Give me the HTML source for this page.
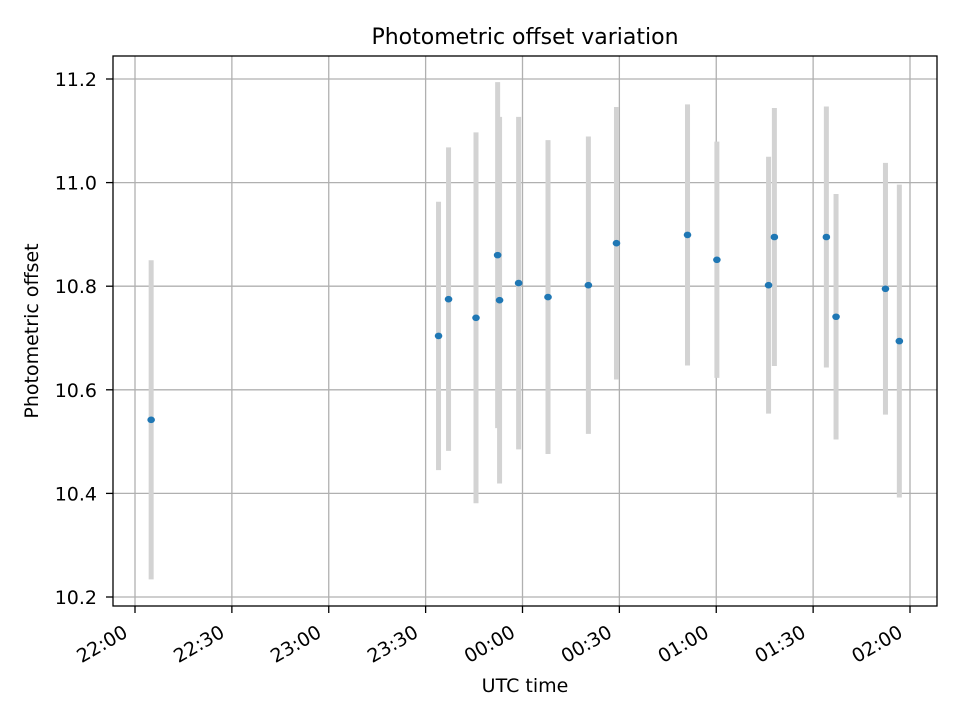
<!DOCTYPE html>
<html><head><meta charset="utf-8"><style>
html,body{margin:0;padding:0;background:#fff;}
svg{display:block;font-family:"DejaVu Sans","Liberation Sans",sans-serif;}
</style></head><body>
<svg id="chart" width="960" height="720" viewBox="0 0 960 720" xmlns="http://www.w3.org/2000/svg">
<rect width="960" height="720" fill="#fff"/>
<g id="grid"></g>
<g id="bars"></g>
<g id="pts"></g>
<rect x="113" y="56" width="824" height="550" fill="none" stroke="#000" stroke-width="1.3"/>
<g id="ticks"></g>
<text x="525" y="44" font-size="22" text-anchor="middle">Photometric offset variation</text>
<text x="525" y="692" font-size="19" text-anchor="middle">UTC time</text>
<text transform="translate(38,331) rotate(-90)" font-size="19" text-anchor="middle">Photometric offset</text>
</svg>
<script>
// minutes after 22:00 UTC
const times = [5.0, 94.0, 97.1, 105.6, 112.3, 112.9, 118.8, 127.9, 140.4, 149.1, 171.1, 180.2, 196.2, 198.0, 214.1, 217.1, 232.4, 236.7];
const offsets = [10.542, 10.704, 10.775, 10.739, 10.860, 10.773, 10.806, 10.779, 10.802, 10.883, 10.899, 10.851, 10.802, 10.895, 10.895, 10.741, 10.795, 10.694];
const errors = [0.308, 0.259, 0.293, 0.358, 0.334, 0.354, 0.321, 0.303, 0.287, 0.263, 0.252, 0.228, 0.248, 0.249, 0.252, 0.237, 0.243, 0.302];
const xTickMinutes = [0, 30, 60, 90, 120, 150, 180, 210, 240];
const xTickLabels = ["22:00", "22:30", "23:00", "23:30", "00:00", "00:30", "01:00", "01:30", "02:00"];
const yTicks = [10.2, 10.4, 10.6, 10.8, 11.0, 11.2];
const yTickLabels = ["10.2", "10.4", "10.6", "10.8", "11.0", "11.2"];

const NS = "http://www.w3.org/2000/svg";
function X(m){ return 135 + m * (775/240); }
function Y(v){ return 79 + (11.2 - v) * 518; }
function mk(tag, attrs, parent){
  const e = document.createElementNS(NS, tag);
  for (const k in attrs) e.setAttribute(k, attrs[k]);
  parent.appendChild(e);
  return e;
}
const grid = document.getElementById('grid');
const ticks = document.getElementById('ticks');
const bars = document.getElementById('bars');
const pts = document.getElementById('pts');

xTickMinutes.forEach((m, i) => {
  const x = X(m);
  const g = mk('line', {x1:x, x2:x, y1:56, y2:606, stroke:'#b0b0b0', 'stroke-width':1.3}, grid);
  
  
  const t = mk('line', {x1:x, x2:x, y1:606, y2:613, stroke:'#000', 'stroke-width':1.3}, ticks);
  
  
  const l = mk('text', {transform:'translate(' + (x-6) + ',636) rotate(-30)', 'font-size':19, 'text-anchor':'end'}, ticks);
  l.textContent = xTickLabels[i];
  
  
});
yTicks.forEach((v, i) => {
  const y = Y(v);
  const g = mk('line', {x1:113, x2:937, y1:y, y2:y, stroke:'#b0b0b0', 'stroke-width':1.3}, grid);
  
  
  const t = mk('line', {x1:106, x2:113, y1:y, y2:y, stroke:'#000', 'stroke-width':1.3}, ticks);
  
  
  const l = mk('text', {x:97, y:y+7, 'font-size':19, 'text-anchor':'end'}, ticks);
  l.textContent = yTickLabels[i];
  
  
});
times.forEach((m, i) => {
  const x = X(m);
  const b = mk('line', {x1:x, x2:x, y1:Y(offsets[i]+errors[i]), y2:Y(offsets[i]-errors[i]), stroke:'#d3d3d3', 'stroke-width':5}, bars);
  
  
});
times.forEach((m, i) => {
  const p = mk('ellipse', {cx:X(m), cy:Y(offsets[i]), rx:3.8, ry:3.3, fill:'#1f77b4'}, pts);
  
  
});
</script>
</body></html>
